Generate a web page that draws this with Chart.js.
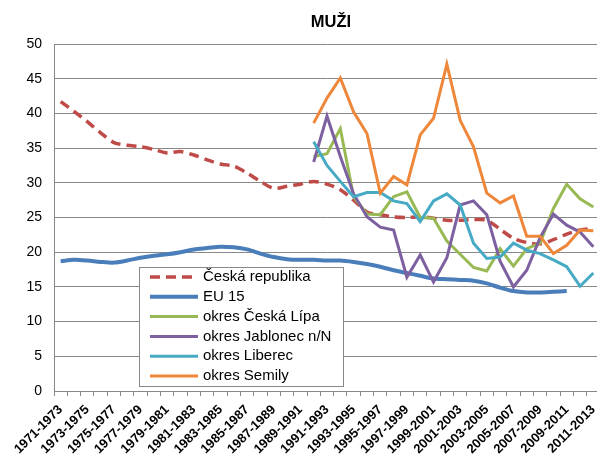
<!DOCTYPE html>
<html><head><meta charset="utf-8">
<style>
html,body{margin:0;padding:0;background:#fff;overflow:hidden}
#wrap{position:relative;width:597px;height:456px;overflow:hidden}
canvas{display:block}
</style>
<script src="https://cdn.jsdelivr.net/npm/chart.js@4.4.1/dist/chart.umd.min.js"></script>
</head><body>
<div id="wrap"><canvas id="c" width="600" height="456"></canvas></div>
<script>
const categories = ["1971-1973","1972-1974","1973-1975","1974-1976","1975-1977","1976-1978","1977-1979","1978-1980","1979-1981","1980-1982","1981-1983","1982-1984","1983-1985","1984-1986","1985-1987","1986-1988","1987-1989","1988-1990","1989-1991","1990-1992","1991-1993","1992-1994","1993-1995","1994-1996","1995-1997","1996-1998","1997-1999","1998-2000","1999-2001","2000-2002","2001-2003","2002-2004","2003-2005","2004-2006","2005-2007","2006-2008","2007-2009","2008-2010","2009-2011","2010-2012","2011-2013"];
const yTicks = [0,5,10,15,20,25,30,35,40,45,50];
const title = "MUŽI";
const seriesNames = ["Česká republika","EU 15","okres Česká Lípa","okres Jablonec n/N","okres Liberec","okres Semily"];
const ceskaRepublika = [41.7,40.3,38.8,37.2,35.8,35.4,35.2,34.8,34.3,34.5,34.0,33.3,32.7,32.4,31.4,30.2,29.2,29.5,29.8,30.2,29.8,29.0,27.5,25.8,25.4,25.1,25.0,25.1,24.9,24.6,24.6,24.7,24.6,23.3,22.0,21.4,21.2,21.8,22.6,23.2,23.4];
const eu15 = [18.7,18.9,18.8,18.6,18.5,18.8,19.2,19.5,19.7,20.0,20.4,20.6,20.8,20.7,20.4,19.8,19.3,19.0,18.9,18.9,18.8,18.8,18.6,18.3,17.9,17.4,17.0,16.6,16.2,16.1,16.0,15.9,15.5,14.9,14.4,14.2,14.2,14.3,14.4,null,null];
const N = null;
const ceskaLipa = [N,N,N,N,N,N,N,N,N,N,N,N,N,N,N,N,N,N,N,33.8,34.2,37.8,28.0,25.5,25.4,28.0,28.7,25.0,24.9,21.6,19.7,17.8,17.3,20.5,18.0,20.5,21.3,26.3,29.8,27.7,26.5];
const jablonec = [N,N,N,N,N,N,N,N,N,N,N,N,N,N,N,N,N,N,N,33.0,39.6,33.8,28.4,25.1,23.6,23.2,16.4,19.6,15.7,19.2,26.8,27.4,25.4,18.7,15.0,17.4,22.1,25.5,23.9,22.9,20.8];
const liberec = [N,N,N,N,N,N,N,N,N,N,N,N,N,N,N,N,N,N,N,35.9,32.5,30.2,28.0,28.6,28.6,27.4,27.0,24.4,27.4,28.4,26.8,21.3,19.1,19.3,21.3,20.3,19.8,18.9,17.9,15.1,17.0];
const semily = [N,N,N,N,N,N,N,N,N,N,N,N,N,N,N,N,N,N,N,38.6,42.2,45.1,40.2,37.1,28.5,30.9,29.7,36.9,39.3,47.1,39.0,35.2,28.5,27.1,28.1,22.3,22.3,19.8,21.0,23.2,23.1];

const colors = ["#BE4B48","#4A7EBB","#98B954","#7D60A0","#46AAC5","#EE873A"];
const FONT = "'Liberation Sans', Arial, sans-serif";

const titlePlugin = {
  id: 'titleText',
  afterDraw(chart) {
    const ctx = chart.ctx;
    ctx.save();
    ctx.font = "bold 16.5px " + FONT;
    ctx.fillStyle = "#000";
    ctx.textAlign = "center";
    ctx.textBaseline = "middle";
    ctx.fillText(title, 331, 22);
    ctx.restore();
  }
};

const legendPlugin = {
  id: 'boxLegend',
  afterDatasetsDraw(chart) {
    const ctx = chart.ctx;
    const x0 = 139.5, y0 = 267.5, x1 = 343.5, y1 = 386.5;
    ctx.save();
    ctx.fillStyle = "#fff";
    ctx.fillRect(x0, y0, x1 - x0, y1 - y0);
    ctx.strokeStyle = "#888";
    ctx.lineWidth = 1;
    ctx.strokeRect(x0, y0, x1 - x0, y1 - y0);
    ctx.font = "15px " + FONT;
    ctx.textBaseline = "middle";
    ctx.textAlign = "left";
    chart.data.datasets.forEach((ds, i) => {
      const y = 277 + i * 19.8;
      ctx.beginPath();
      ctx.strokeStyle = ds.borderColor;
      ctx.lineWidth = ds.borderWidth;
      ctx.setLineDash(ds.borderDash || []);
      ctx.lineCap = "butt";
      ctx.moveTo(150, y);
      ctx.lineTo(198, y);
      ctx.stroke();
      ctx.setLineDash([]);
      ctx.fillStyle = "#000";
      ctx.fillText(ds.label, 203, y);
    });
    ctx.restore();
  }
};

function mk(i, data, extra) {
  return Object.assign({
    label: seriesNames[i], data: data, borderColor: colors[i], backgroundColor: colors[i],
    borderWidth: 3, pointRadius: 0, tension: 0, fill: false, spanGaps: false, order: 10 - i
  }, extra || {});
}

new Chart(document.getElementById('c'), {
  type: 'line',
  data: {
    labels: categories,
    datasets: [
      mk(0, ceskaRepublika, {borderDash: [10, 6], borderWidth: 3.5, tension: 0.3}),
      mk(1, eu15, {borderWidth: 4, tension: 0.3}),
      mk(2, ceskaLipa),
      mk(3, jablonec),
      mk(4, liberec),
      mk(5, semily)
    ]
  },
  options: {
    responsive: false,
    animation: false,
    devicePixelRatio: 1,
    layout: {padding: {top: 44, right: 0, left: 0, bottom: 0}},
    plugins: {legend: {display: false}, title: {display: false}, tooltip: {enabled: false}},
    scales: {
      x: {
        type: 'category',
        offset: true,
        grid: {display: true, drawOnChartArea: false, drawTicks: true, tickLength: 5, offset: true, color: "#888", lineWidth: 1},
        border: {display: true, color: "#888", width: 1},
        ticks: {
          autoSkip: false, maxRotation: 45, minRotation: 45, padding: 6,
          color: "#000", font: {family: FONT, size: 13, weight: 'bold'},
          callback: function(v, idx) { return idx % 2 === 0 ? categories[idx] : ''; }
        },
        afterFit(scale) { scale.height = 65; scale.paddingLeft = 0; scale.paddingRight = 0; }
      },
      y: {
        min: 0, max: 50,
        afterBuildTicks(scale) { scale.ticks = yTicks.map(v => ({value: v})); },
        grid: {color: "#888", lineWidth: 1, drawTicks: false},
        border: {display: true, color: "#888", width: 1},
        ticks: {padding: 12, color: "#000", font: {family: FONT, size: 14}},
        afterFit(scale) { scale.width = 54; }
      }
    }
  },
  plugins: [legendPlugin, titlePlugin]
});
</script>
</body></html>
